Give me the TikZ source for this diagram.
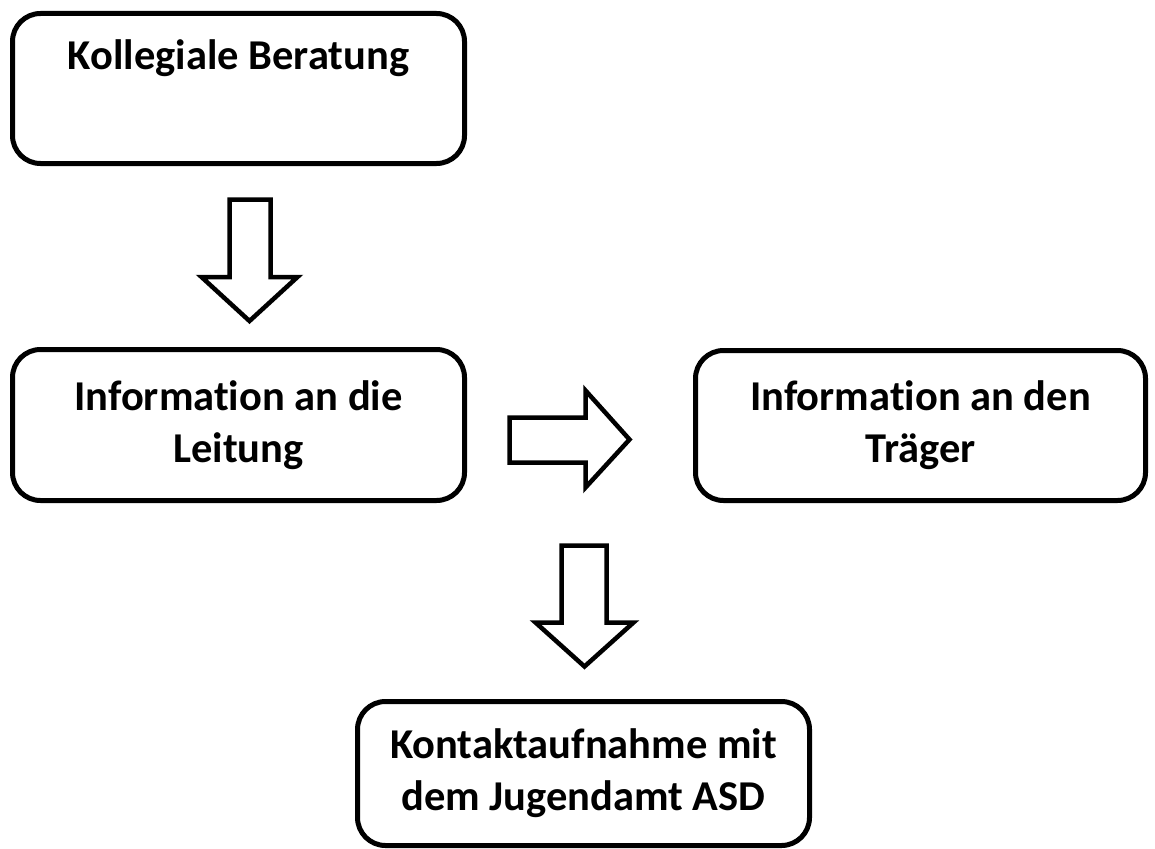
\documentclass[tikz,border=0pt]{standalone}
\usepackage{fontspec}
\setmainfont{Carlito}[Ligatures={NoCommon}]
\begin{document}
\begin{tikzpicture}[x=1pt,y=-1pt,
  box/.style={draw=black, line width=5pt, rounded corners=28pt, inner sep=0pt,
    align=center, font=\bfseries\fontsize{42.5}{52}\selectfont, fill=white},
  blockarrow/.style={draw=black, line width=4.5pt, line join=miter, fill=white}]
\useasboundingbox (0,0) rectangle (1155,848);
\fill[white] (0,0) rectangle (1155,848);
\node[box, minimum width=452pt, minimum height=150pt] (b1) at (238.5,88.5) {Kollegiale Beratung\\\strut};
\node[box, minimum width=452pt, minimum height=151pt] (b2) at (238.5,425) {Information an die\\Leitung};
\node[box, minimum width=450pt, minimum height=150pt] (b3) at (920.5,425.5) {Information an den\\Träger};
\node[box, minimum width=452pt, minimum height=144pt] (b4) at (583.5,773.5) {Kontaktaufnahme mit\\dem Jugendamt ASD};
% down arrow b1 -> b2
\draw[blockarrow] (229.5,199.5) -- (270.5,199.5) -- (270.5,277) -- (297.5,277) -- (249.5,321) -- (201.5,277) -- (229.5,277) -- cycle;
% right arrow b2 -> b3
\draw[blockarrow] (509.5,417.5) -- (585.5,417.5) -- (585.5,390.5) -- (629.5,439.5) -- (585.5,487.5) -- (585.5,462.5) -- (509.5,462.5) -- cycle;
% down arrow -> b4
\draw[blockarrow] (561.5,545.5) -- (606.5,545.5) -- (606.5,622.5) -- (633.5,622.5) -- (584.5,666.5) -- (535.5,622.5) -- (561.5,622.5) -- cycle;
\end{tikzpicture}
\end{document}
